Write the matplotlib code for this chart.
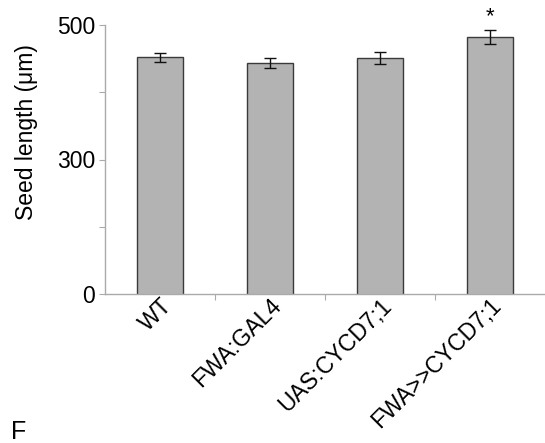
import matplotlib
matplotlib.use("Agg")
import matplotlib.pyplot as plt
from matplotlib.transforms import ScaledTranslation

categories = ["WT", "FWA:GAL4", "UAS:CYCD7;1", "FWA>>CYCD7;1"]
values = [452, 443, 451, 482]
errors = [6.3, 7.4, 8.4, 10.6]
significant = [False, False, False, True]
ytick_vals = [100, 200, 300, 400, 500]
ytick_labels = ["0", "", "300", "", "500"]

plt.rcParams['font.family'] = ['Liberation Sans', 'DejaVu Sans']

fig = plt.figure(figsize=(5.45, 4.43), dpi=100)
ax = fig.add_axes([105/545, 1-294/443, 440/545, 269/443])

x = list(range(len(categories)))
ax.bar(x, values, width=0.41, color="#b3b3b3", edgecolor="#3a3a3a", linewidth=1.0, zorder=2)
ax.errorbar(x, values, yerr=errors, fmt="none", ecolor="#111111", elinewidth=1.0,
            capsize=4, capthick=1.0, zorder=3)
for xi, v, e, s in zip(x, values, errors, significant):
    if s:
        ax.text(xi, v + e + 4, "*", ha="center", va="bottom", fontsize=16)

ax.set_xlim(-0.5, 3.5)
ax.set_ylim(100, 500)
ax.set_yticks(ytick_vals)
ax.set_yticklabels(ytick_labels, fontsize=16.5)
ax.set_xticks([0.5, 1.5, 2.5])
ax.set_xticklabels([])
ax.set_xticks(x, minor=True)
ax.set_xticklabels(categories, minor=True, rotation=45, ha="right", va="top",
                   rotation_mode="anchor", fontsize=16.5)
offset = ScaledTranslation(12/100, 3/100, fig.dpi_scale_trans)
for lbl in ax.get_xticklabels(minor=True):
    lbl.set_transform(lbl.get_transform() + offset)
ax.tick_params(axis="x", which="minor", length=0, pad=0)
ax.tick_params(axis="x", which="major", length=4, color="#aaaaaa", direction="out")
ax.tick_params(axis="y", length=4, color="#aaaaaa", direction="out", pad=3)

for sp in ["top", "right"]:
    ax.spines[sp].set_visible(False)
for sp in ["left", "bottom"]:
    ax.spines[sp].set_color("#aaaaaa")
    ax.spines[sp].set_linewidth(1.0)

ax.set_ylabel("Seed length (μm)", fontsize=16.5)
ax.yaxis.set_label_coords(-0.152, 0.602)

fig.text(11/545, 4/443, "F", fontsize=18, ha="left", va="baseline")

fig.savefig("out.png", dpi=100)
